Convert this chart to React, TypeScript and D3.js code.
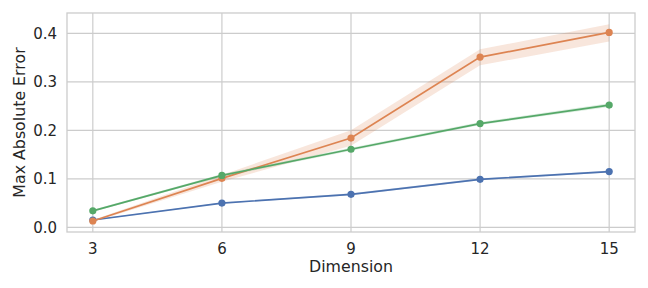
import * as d3 from "d3";

const dims = [3, 6, 9, 12, 15];
const yTicks = [0, 0.1, 0.2, 0.3, 0.4];

const blueMean = [0.015, 0.05, 0.068, 0.099, 0.115];
const blueLo = [0.014, 0.049, 0.066, 0.097, 0.113];
const blueHi = [0.016, 0.051, 0.07, 0.101, 0.117];

const orangeMean = [0.013, 0.101, 0.184, 0.351, 0.402];
const orangeLo = [0.011, 0.094, 0.168, 0.334, 0.383];
const orangeHi = [0.015, 0.108, 0.2, 0.367, 0.419];

const greenMean = [0.034, 0.107, 0.161, 0.214, 0.252];
const greenLo = [0.032, 0.104, 0.158, 0.211, 0.248];
const greenHi = [0.036, 0.11, 0.164, 0.217, 0.256];

const series = [
  { color: "#4c72b0", mean: blueMean, lo: blueLo, hi: blueHi },
  { color: "#dd8452", mean: orangeMean, lo: orangeLo, hi: orangeHi },
  { color: "#55a868", mean: greenMean, lo: greenLo, hi: greenHi },
];

const WIDTH = 648;
const HEIGHT = 288;
const M = { top: 13, right: 13, bottom: 56, left: 67 };
const FONT = "DejaVu Sans, sans-serif";
const TEXT = "#262626";
const GRID = "#cccccc";

export default function App() {
  const innerW = WIDTH - M.left - M.right;
  const innerH = HEIGHT - M.top - M.bottom;

  const x = d3.scaleLinear().domain([2.4, 15.6]).range([0, innerW]);
  const y = d3.scaleLinear().domain([-0.0097, 0.442]).range([innerH, 0]);

  const line = d3
    .line<number>()
    .x((_, i) => x(dims[i]))
    .y((d) => y(d));

  const band = (lo: number[], hi: number[]) =>
    d3
      .area<number>()
      .x((_, i) => x(dims[i]))
      .y0((_, i) => y(lo[i]))
      .y1((_, i) => y(hi[i]))(dims) ?? "";

  return (
    <svg
      width={WIDTH}
      height={HEIGHT}
      style={{ position: "absolute", left: 0, top: 0, background: "#fff" }}
      fontFamily={FONT}
    >
      <g transform={`translate(${M.left},${M.top})`}>
        {/* grid */}
        {dims.map((d) => (
          <line key={`gx${d}`} x1={x(d)} x2={x(d)} y1={0} y2={innerH} stroke={GRID} strokeWidth={1.2} />
        ))}
        {yTicks.map((t) => (
          <line key={`gy${t}`} x1={0} x2={innerW} y1={y(t)} y2={y(t)} stroke={GRID} strokeWidth={1.2} />
        ))}

        {series.map((s, k) => (
          <g key={k}>
            <path d={band(s.lo, s.hi)} fill={s.color} opacity={0.2} stroke="none" />
            <path d={line(s.mean) ?? ""} fill="none" stroke={s.color} strokeWidth={1.7} />
            {s.mean.map((v, i) => (
              <circle key={i} cx={x(dims[i])} cy={y(v)} r={3.6} fill={s.color} />
            ))}
          </g>
        ))}

        {/* spines */}
        <rect x={0} y={0} width={innerW} height={innerH} fill="none" stroke={GRID} strokeWidth={1.3} />

        {/* x tick labels */}
        {dims.map((d) => (
          <text key={`tx${d}`} x={x(d)} y={innerH + 22} textAnchor="middle" fontSize={15} fill={TEXT}>
            {d}
          </text>
        ))}
        {/* y tick labels */}
        {yTicks.map((t) => (
          <text
            key={`ty${t}`}
            x={-10}
            y={y(t)}
            dy="0.36em"
            textAnchor="end"
            fontSize={15}
            fill={TEXT}
          >
            {t.toFixed(1)}
          </text>
        ))}

        <text x={innerW / 2} y={innerH + 40.3} textAnchor="middle" fontSize={15.8} fill={TEXT}>
          Dimension
        </text>
        <text
          transform={`translate(${-42},${innerH / 2}) rotate(-90)`}
          textAnchor="middle"
          fontSize={15.8}
          fill={TEXT}
        >
          Max Absolute Error
        </text>
      </g>
    </svg>
  );
}
